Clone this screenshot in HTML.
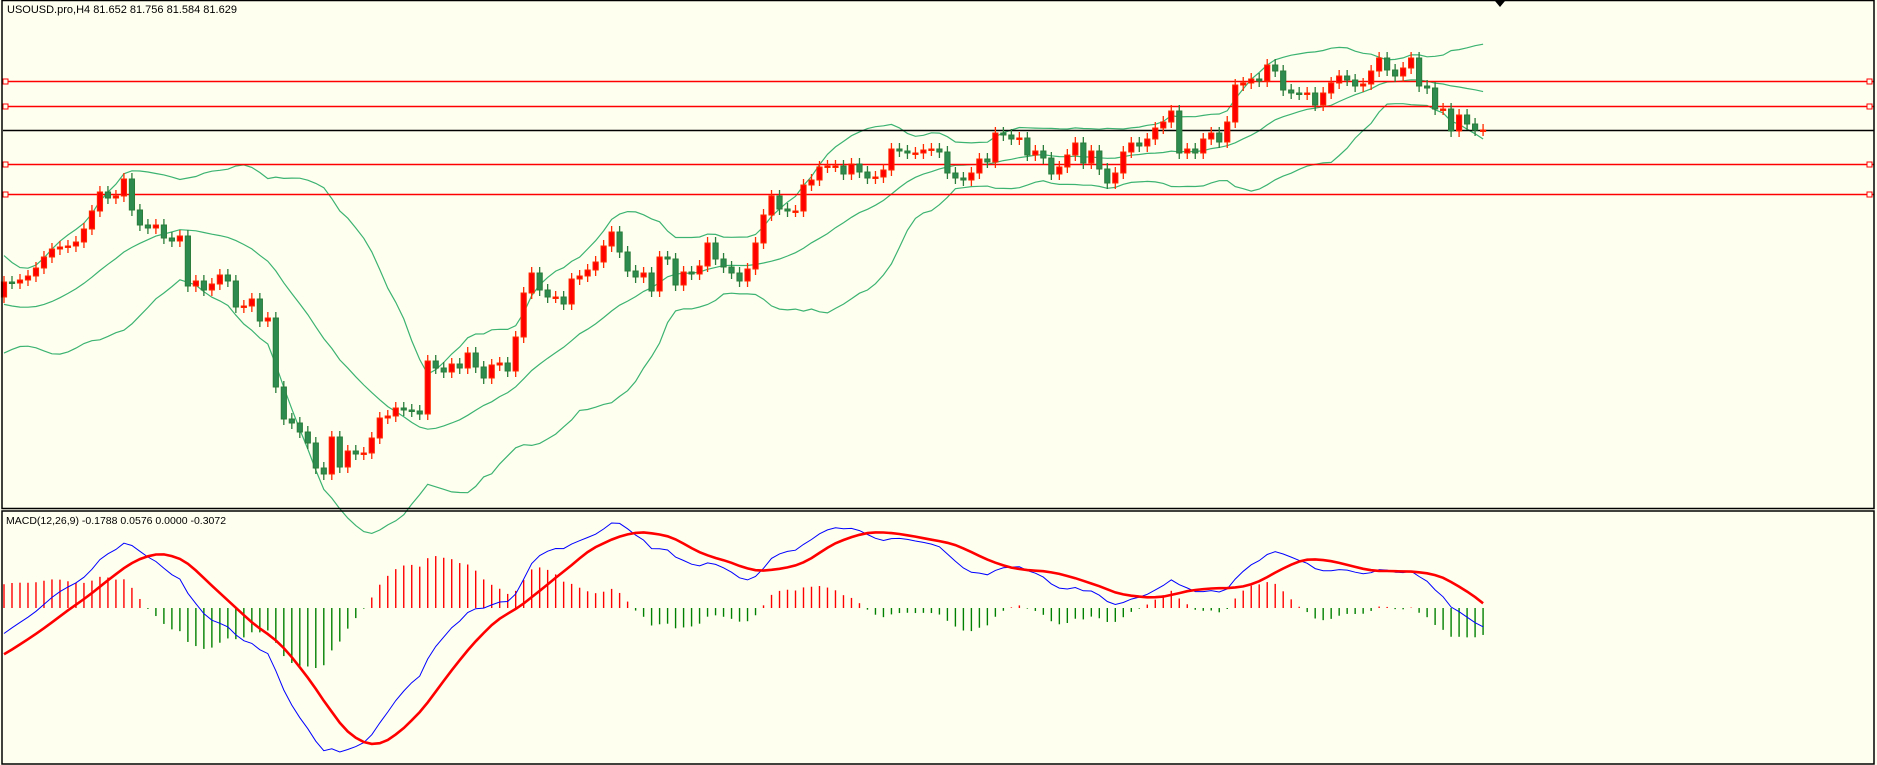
<!DOCTYPE html>
<html><head><meta charset="utf-8"><style>
html,body{margin:0;padding:0;background:#fffff0;}
svg{display:block;font-family:"Liberation Sans",sans-serif;}
</style></head><body>
<svg id="chart" width="1877" height="765" viewBox="0 0 1877 765" xmlns="http://www.w3.org/2000/svg">
<rect x="0" y="0" width="1877" height="765" fill="#fffff0"/>
<g id="bands"></g><g id="levels"></g><g id="candles"></g><g id="macd"></g>
<rect x="2" y="0.5" width="1872" height="508" fill="none" stroke="#000" stroke-width="1.5"/>
<rect x="2" y="511" width="1872" height="253" fill="none" stroke="#000" stroke-width="1.5"/>
<text x="7" y="13" font-size="11" fill="#000">USOUSD.pro,H4  81.652 81.756 81.584 81.629</text>
<text x="6" y="524" font-size="10.5" fill="#000">MACD(12,26,9) -0.1788 0.0576 0.0000 -0.3072</text>
<path d="M1495 1 L1505 1 L1500 7 Z" fill="#000"/>
</svg>
<script>
// closes before the first visible bar (estimated; used only for indicator warm-up)
const history = [80.40,80.48,80.55,80.60,80.58,80.62,80.66,80.60,80.58,80.55,
80.50,80.42,80.35,80.20,80.10,79.95,79.85,79.70,79.62,79.58,
79.55,79.60,79.66,79.72,79.80,79.85,79.90,79.88,79.93,79.96];
const closes = [80.11,80.10,80.13,80.17,80.25,80.36,80.44,80.46,80.47,80.51,
80.64,80.82,81.01,80.95,80.97,81.14,80.83,80.68,80.65,80.68,
80.55,80.52,80.57,80.07,80.12,80.03,80.09,80.18,80.12,79.86,
79.87,79.94,79.72,79.75,79.06,78.74,78.70,78.61,78.50,78.25,
78.19,78.56,78.26,78.42,78.39,78.40,78.55,78.75,78.77,78.85,
78.83,78.82,78.79,79.32,79.25,79.21,79.29,79.25,79.40,79.26,
79.15,79.28,79.30,79.22,79.56,80.00,80.20,80.03,79.96,79.96,
79.89,80.14,80.17,80.23,80.31,80.47,80.61,80.41,80.22,80.16,
80.20,80.02,80.36,80.34,80.08,80.21,80.19,80.27,80.50,80.34,
80.26,80.20,80.12,80.24,80.50,80.78,80.97,80.84,80.82,80.82,
81.08,81.13,81.26,81.27,81.27,81.19,81.29,81.21,81.15,81.16,
81.23,81.44,81.42,81.40,81.40,81.43,81.44,81.41,81.20,81.15,
81.13,81.20,81.34,81.31,81.60,81.58,81.54,81.55,81.38,81.42,
81.35,81.19,81.26,81.38,81.50,81.30,81.42,81.24,81.10,81.20,
81.41,81.50,81.47,81.54,81.65,81.71,81.82,81.40,81.44,81.40,
81.54,81.60,81.51,81.71,82.08,82.10,82.14,82.12,82.28,82.22,
82.03,82.00,81.99,82.00,81.88,82.00,82.10,82.17,82.13,82.07,
82.09,82.22,82.35,82.23,82.17,82.25,82.35,82.07,82.05,81.84,
81.84,81.62,81.78,81.69,81.63,81.63];
const firstOpen = 79.96;
const redLevels = [82.12, 81.87, 81.29, 80.99];
const currentPrice = 81.63;

const NS = "http://www.w3.org/2000/svg";
function mk(tag, attrs, parent){const e=document.createElementNS(NS,tag);for(const k in attrs)e.setAttribute(k,attrs[k]);parent.appendChild(e);return e;}
const xOf = i => 4 + 7.995*i;
const yOf = p => (82.93 - p)*100;
const full = history.concat(closes);
const off = history.length;

// levels
const lv = document.getElementById('levels');
redLevels.forEach((p,k)=>{
  const y=Math.round(yOf(p))+0.5;
  const l=mk('line',{x1:3,x2:1874,y1:y,y2:y,stroke:'#ff0000','stroke-width':1.5},lv);
  
  
  [5,1869].forEach(sx=>{
    const s=mk('rect',{x:sx-2,y:y-2.5,width:5,height:5,fill:'#fffff0',stroke:'#ff0000','stroke-width':1},lv);
    
    
  });
});
{const y=Math.round(yOf(currentPrice))+0.5;
const l=mk('line',{x1:3,x2:1874,y1:y,y2:y,stroke:'#000','stroke-width':1.5},lv);

}

// bollinger (20,2)
const bg=document.getElementById('bands');
const up=[],mid=[],lo=[];
closes.forEach((c,i)=>{
  const j=i+off, s=Math.max(0,j-19), w=full.slice(s,j+1);
  const m=w.reduce((a,b)=>a+b,0)/w.length;
  const sd=Math.sqrt(w.reduce((a,b)=>a+(b-m)*(b-m),0)/w.length);
  mid.push(m);up.push(m+2*sd);lo.push(m-2*sd);
});
[['bollinger-upper',up],['bollinger-middle',mid],['bollinger-lower',lo]].forEach(([n,arr])=>{
  const d=arr.map((v,i)=>(i?'L':'M')+xOf(i).toFixed(1)+' '+yOf(v).toFixed(1)).join(' ');
  const p=mk('path',{d:d,fill:'none',stroke:'#3cb371','stroke-width':1.2},bg);
  
  
});

// candles
const cg=document.getElementById('candles');
closes.forEach((c,i)=>{
  const o=i?closes[i-1]:firstOpen;
  const bull=c>=o;
  const x=xOf(i);
  const yt=yOf(Math.max(o,c)), yb=yOf(Math.min(o,c));
  const col=bull?'#ff2a00':'#2a7d3a', fill=bull?'#ff0000':'#2e8b4f';
  const g=mk('g',{},cg);
  
  
  mk('line',{x1:x,x2:x,y1:yt-6,y2:yb+6,stroke:col,'stroke-width':1.3},g);
  const h=Math.max(1.5,yb-yt);
  mk('rect',{x:x-2.6,y:yt,width:5.2,height:h,fill:fill,stroke:col,'stroke-width':1},g);
});

// MACD (12,26,9)
function ema(arr,n){const k=2/(n+1);const out=[];arr.forEach((v,i)=>out.push(i?out[i-1]+k*(v-out[i-1]):v));return out;}
const e12=ema(full,12), e26=ema(full,26);
const macdFull=e12.map((v,i)=>v-e26[i]);
const sigFull=macdFull.map((v,i)=>{const s=Math.max(0,i-8),w=macdFull.slice(s,i+1);return w.reduce((a,b)=>a+b,0)/w.length;});
const macd=macdFull.slice(off), signal=sigFull.slice(off);
const hist=macd.map((v,i)=>v-signal[i]);
const mg=document.getElementById('macd');
const all=macd.concat(signal);
const mn=Math.min(...all), mx=Math.max(...all);
const yL=v=>752-(v-mn)/(mx-mn)*(752-523);
const hmax=Math.max(...hist.map(Math.abs));
const yH=v=>608-v/hmax*60;
hist.forEach((h,i)=>{
  const b=mk('line',{x1:xOf(i),x2:xOf(i),y1:608,y2:yH(h),stroke:h>=0?'#ff0000':'#008000','stroke-width':1.4},mg);
  
  
});
const pd=arr=>arr.map((v,i)=>(i?'L':'M')+xOf(i).toFixed(1)+' '+yL(v).toFixed(1)).join(' ');
const ml=mk('path',{d:pd(macd),fill:'none',stroke:'#0000ff','stroke-width':1},mg);


const sl=mk('path',{d:pd(signal),fill:'none',stroke:'#ff0000','stroke-width':2.6},mg);


</script>
</body></html>
